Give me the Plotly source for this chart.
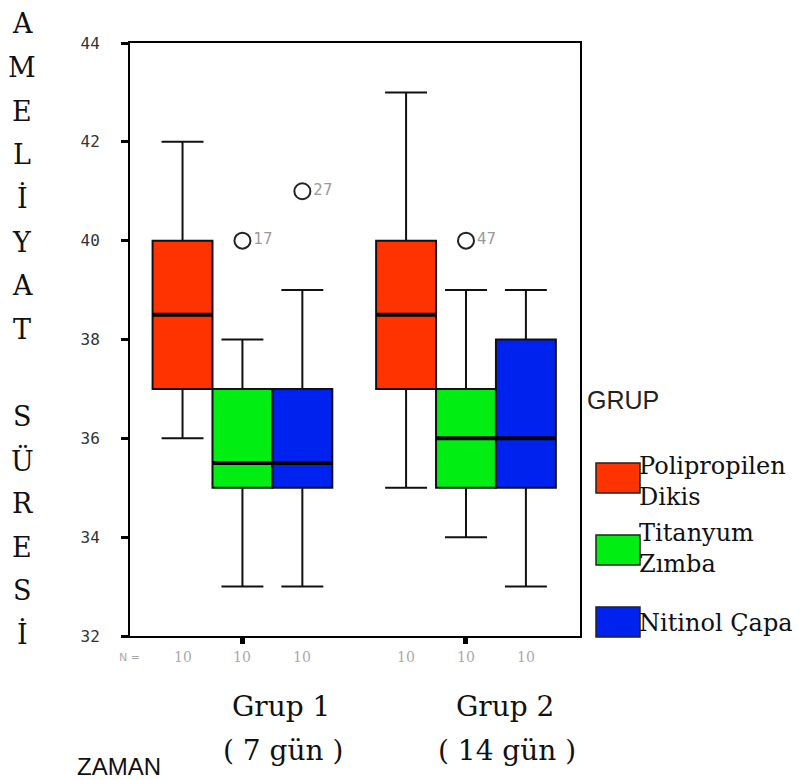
import plotly.graph_objects as go

# ---- data ----
groups = ["Grup 1", "Grup 2"]
group_sub = ["( 7 gün )", "( 14 gün )"]
group_pos = [0, 1]
series = ["Polipropilen<br>Dikis", "Titanyum<br>Zımba", "Nitinol Çapa"]
colors = ["#ff3300", "#00ee11", "#0022ee"]

q1 = [[37, 37], [35, 35], [35, 35]]
median = [[38.5, 38.5], [35.5, 36], [35.5, 36]]
q3 = [[40, 40], [37, 37], [37, 38]]
lower = [[36, 35], [33, 34], [33, 33]]
upper = [[42, 43], [38, 39], [39, 39]]
n_counts = [[10, 10], [10, 10], [10, 10]]

# outliers: (series index, group index, value, case label)
out_series = [1, 2, 1]
out_group = [0, 0, 1]
out_values = [40, 41, 40]
out_labels = ["17", "27", "47"]

y_title = ["A", "M", "E", "L", "İ", "Y", "A", "T", "", "S", "Ü", "R", "E", "S", "İ"]

# ---- layout helpers (screen pixels; page body adds an 8px offset) ----
OFF = 8
box_w = 0.268
offsets = [-box_w, 0, box_w]
L, R, T, B = 130, 580, 43, 636
W, H = 803, 780

def px_y(p):
    return (B - p) / (B - T)

def px_x(p):
    return (p - L) / (R - L)

fig = go.Figure()

for i, name in enumerate(series):
    xs = [g + offsets[i] for g in group_pos]
    fig.add_trace(go.Box(
        x=xs, q1=q1[i], median=median[i], q3=q3[i],
        lowerfence=lower[i], upperfence=upper[i],
        width=box_w, fillcolor=colors[i],
        line=dict(color="#111111", width=2),
        whiskerwidth=0.7, boxpoints=False, showlegend=False,
        hoverinfo="skip"))
    mx, my = [], []
    for j, g in enumerate(group_pos):
        c = g + offsets[i]
        mx += [c - box_w / 2, c + box_w / 2, None]
        my += [median[i][j], median[i][j], None]
    fig.add_trace(go.Scatter(x=mx, y=my, mode="lines",
                             line=dict(color="black", width=4),
                             showlegend=False, hoverinfo="skip"))

fig.add_trace(go.Scatter(
    x=[group_pos[g] + offsets[s] for s, g in zip(out_series, out_group)],
    y=out_values, mode="markers+text", text=out_labels,
    textposition="middle right",
    textfont=dict(family="DejaVu Sans", size=15, color="#9a9a9a"),
    marker=dict(symbol="circle-open", size=16, color="#222222",
                line=dict(width=2, color="#222222")),
    showlegend=False, hoverinfo="skip"))

ann = []
ann.append(dict(x=px_x(129), y=px_y(657), xref="paper", yref="paper",
                xanchor="center", yanchor="middle", text="N =", showarrow=False,
                font=dict(family="DejaVu Sans", size=11, color="#aaaaaa")))
for i in range(len(series)):
    for j, g in enumerate(group_pos):
        ann.append(dict(x=g + offsets[i], y=px_y(657), xref="x", yref="paper",
                        xanchor="center", yanchor="middle",
                        text=str(n_counts[i][j]), showarrow=False,
                        font=dict(family="DejaVu Serif", size=14, color="#aaaaaa")))
for j, g in enumerate(group_pos):
    ann.append(dict(x=g, y=px_y(707), xref="x", yref="paper", xshift=39,
                    xanchor="center", yanchor="middle", text=groups[j], showarrow=False,
                    font=dict(family="DejaVu Serif", size=28, color="#111111")))
    ann.append(dict(x=g, y=px_y(750), xref="x", yref="paper", xshift=41,
                    xanchor="center", yanchor="middle", text=group_sub[j], showarrow=False,
                    font=dict(family="DejaVu Serif", size=28, color="#111111")))
ann.append(dict(x=px_x(119), y=px_y(767), xref="paper", yref="paper",
                xanchor="center", yanchor="middle", text="ZAMAN", showarrow=False,
                font=dict(family="Liberation Sans", size=24, color="#111111")))
for k, ch in enumerate(y_title):
    if ch:
        ann.append(dict(x=px_x(22), y=px_y(24 + k * 43.6), xref="paper", yref="paper",
                        xanchor="center", yanchor="middle",
                        text=ch, showarrow=False,
                        font=dict(family="DejaVu Serif", size=27, color="#111111")))
ann.append(dict(x=px_x(585), y=px_y(400), xref="paper", yref="paper",
                xanchor="left", yanchor="middle", text="GRUP", showarrow=False,
                font=dict(family="Liberation Sans", size=25, color="#222222")))
sw_top = [463, 535, 607]
txt_c = [481.5, 548, 623]
shapes = []
for i, name in enumerate(series):
    shapes.append(dict(type="rect", xref="paper", yref="paper",
                       x0=px_x(596), x1=px_x(640),
                       y0=px_y(sw_top[i]), y1=px_y(sw_top[i] + 30),
                       fillcolor=colors[i], line=dict(color="#222222", width=1.5)))
    ann.append(dict(x=px_x(637), y=px_y(txt_c[i]), xref="paper", yref="paper",
                    xanchor="left", yanchor="middle", align="left",
                    text=name, showarrow=False,
                    font=dict(family="DejaVu Serif", size=24, color="#111111")))

fig.update_layout(
    width=W, height=H,
    margin=dict(l=L - OFF, r=W - R + OFF, t=T - OFF, b=H - B + OFF),
    paper_bgcolor="white", plot_bgcolor="white",
    boxmode="overlay",
    annotations=ann, shapes=shapes,
    xaxis=dict(range=[-0.503, 1.51], tickvals=group_pos, ticktext=["", ""],
               ticks="outside", ticklen=6, tickwidth=5, tickcolor="black",
               showline=True, mirror=True, linecolor="black", linewidth=2,
               showgrid=False, zeroline=False),
    yaxis=dict(range=[32, 44], dtick=2, ticks="outside", ticklen=7, tickwidth=3,
               tickcolor="black", showline=True, mirror=True, linecolor="black",
               linewidth=2, showgrid=False, zeroline=False,
               ticklabelstandoff=18,
               tickfont=dict(family="DejaVu Sans Mono", size=16, color="#333333")),
)

fig.write_html("out.html")
